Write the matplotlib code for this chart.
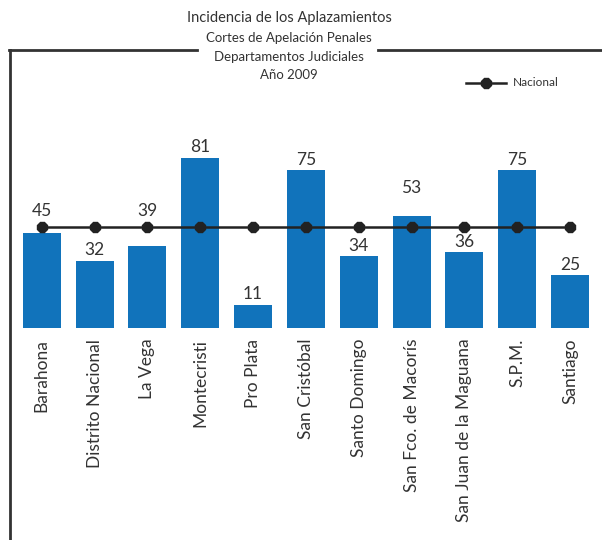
import matplotlib
matplotlib.use("Agg")
import matplotlib.pyplot as plt
from matplotlib.lines import Line2D
import numpy as np

categories = ["Barahona", "Distrito Nacional", "La Vega", "Montecristi", "Pro Plata",
              "San Cristóbal", "Santo Domingo", "San Fco. de Macorís",
              "San Juan de la Maguana", "S.P.M.", "Santiago"]
values = [45, 32, 39, 81, 11, 75, 34, 53, 36, 75, 25]
nacional = [48] * len(categories)

title_lines = ["Incidencia de los Aplazamientos", "Cortes de Apelación Penales",
               "Departamentos Judiciales", "Año 2009"]

plt.rcParams['font.family'] = ['Lato', 'DejaVu Sans']
txt = "#333333"
bar_color = "#1173bb"

W, H = 602, 540
fig = plt.figure(figsize=(W / 100, H / 100), dpi=100)

base_px = 327.7
top_px = 140
ppu = 2.1
left_px, right_px = 15.4, 596.4
ax = fig.add_axes([left_px / W, (H - base_px) / H, (right_px - left_px) / W, (base_px - top_px) / H])
x = np.arange(len(categories))
ax.bar(x, values, width=0.72, color=bar_color, zorder=2)
ax.plot(x, nacional, color="#222222", lw=1.8, marker="8", ms=7.5, zorder=3, label="Nacional")
ax.set_xlim(-0.5, len(categories) - 0.5)
ax.set_ylim(0, (base_px - top_px) / ppu)
for s in ax.spines.values():
    s.set_visible(False)
ax.set_yticks([])
ax.set_xticks(x)
ax.set_xticklabels(categories, rotation=90, fontsize=12.5, color=txt, va="top")
ax.tick_params(axis="x", length=0, pad=8)

for xi, v, n in zip(x, values, nacional):
    if n - 12 < v < n + 8:
        y = v + 13.5 if v >= n else n + 7.6
    else:
        y = v + 5
    ax.text(xi, y, str(v), ha="center", va="center", fontsize=12.5, color=txt, zorder=4)

# legend
fig.add_artist(Line2D([466 / W, 506 / W], [1 - 83 / H, 1 - 83 / H], color="#222222", lw=1.8,
                      transform=fig.transFigure))
fig.add_artist(Line2D([486 / W], [1 - 83 / H], color="#222222", marker="8", ms=7.5,
                      transform=fig.transFigure))
fig.text(513 / W, 1 - 83 / H, "Nacional", fontsize=8.5, color=txt, va="center", ha="left")

# titles
ys = [18, 38, 57, 75]
sizes = [10.5, 9.5, 9.5, 9.5]
for t, yy, s in zip(title_lines, ys, sizes):
    fig.text(289 / W, 1 - yy / H, t, ha="center", va="center", fontsize=s, color=txt)

# frame
lc = "#333333"
fig.add_artist(Line2D([10 / W, 10 / W], [1 - 50 / H, 0], color=lc, lw=2, transform=fig.transFigure))
fig.add_artist(Line2D([9 / W, 197 / W], [1 - 50 / H, 1 - 50 / H], color=lc, lw=2, transform=fig.transFigure))
fig.add_artist(Line2D([378 / W, 1], [1 - 50 / H, 1 - 50 / H], color=lc, lw=2, transform=fig.transFigure))

fig.savefig("out.png", dpi=100)
